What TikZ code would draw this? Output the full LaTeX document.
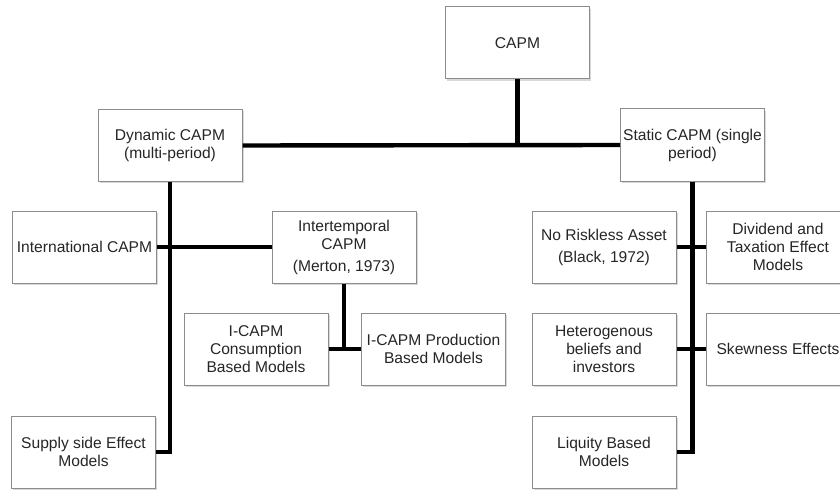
\documentclass[tikz,border=0pt]{standalone}
\usepackage{fontspec}
\setmainfont{Liberation Sans}
\usetikzlibrary{positioning,shadows}

\begin{document}
\begin{tikzpicture}[x=0.5pt,y=-0.5pt,
        model/.style={draw=black!45, line width=0.5pt, fill=white,
            minimum width=72pt, minimum height=36pt, inner sep=1pt,
            align=center, text=black!85, font=\fontsize{7.8}{9}\selectfont,
            drop shadow={shadow xshift=0.8pt, shadow yshift=-0.9pt, opacity=0.3}},
        link/.style={line width=2.2pt, black}]
        \useasboundingbox (0,0) rectangle (840,492);
        \clip (0,0) rectangle (840,492);
        % top levels
        \node[model] (capm) at (517.5,43) {CAPM};
        \node[model] (dyn) at (170,145.5) {Dynamic CAPM\\(multi-period)};
        \node[model] (stat) at (692.5,145) {Static CAPM (single\\period)};
        % dynamic branch
        \node[model] (intl) at (84.5,247) {International CAPM};
        \node[model] (inter) at (344,247) {Intertemporal\\CAPM\\[2pt](Merton, 1973)};
        \node[model] (cons) at (256,349) {I-CAPM\\Consumption\\Based Models};
        \node[model] (prod) at (433.5,349) {I-CAPM Production\\Based Models};
        \node[model] (supply) at (83.5,452) {Supply side Effect\\Models};
        % static branch
        \node[model] (norisk) at (604,247) {No Riskless Asset\\[2pt](Black, 1972)};
        \node[model] (divid) at (778,247) {Dividend and\\Taxation Effect\\Models};
        \node[model] (hetero) at (604,349) {Heterogenous\\beliefs and\\investors};
        \node[model] (skew) at (778,349) {Skewness Effects};
        \node[model] (liq) at (604,452) {Liquity Based\\Models};
        % connectors
        \draw[link] (dyn.east) -- (stat.west);
        \draw[link] (capm.south) -- (capm.south |- dyn.east);
        \draw[link] (dyn.south) |- (supply.east);
        \draw[link] (intl.east) -- (inter.west);
        \draw[link] (inter.south) -- (inter.south |- cons.east);
        \draw[link] (cons.east) -- (prod.west);
        \draw[link] (stat.south) |- (liq.east);
        \draw[link] (norisk.east) -- (divid.west);
        \draw[link] (hetero.east) -- (skew.west);
\end{tikzpicture}
\end{document}
